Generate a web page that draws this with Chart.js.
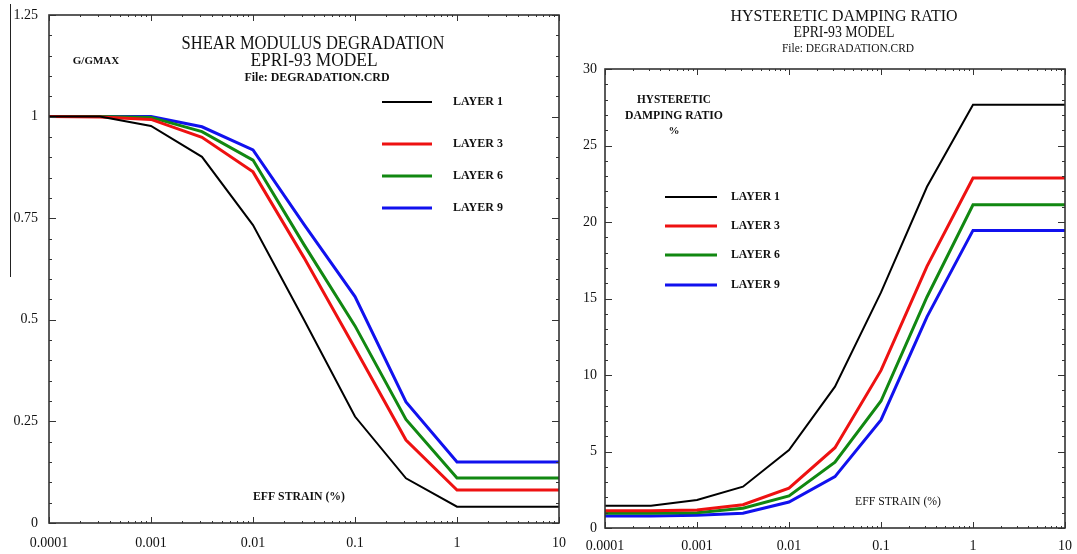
<!DOCTYPE html>
<html><head><meta charset="utf-8">
<script src="https://cdn.jsdelivr.net/npm/chart.js@4.4.1/dist/chart.umd.min.js"></script>
<style>
html,body{margin:0;padding:0;background:#fff;width:1077px;height:554px;overflow:hidden}
#c1{position:absolute;left:0;top:0}
#c2{position:absolute;left:565px;top:0}
</style></head><body>
<canvas id="c1" width="572" height="554"></canvas>
<canvas id="c2" width="512" height="554"></canvas>
<script>
// ---- data ----
const strain = [0.0001, 0.000316, 0.001, 0.00316, 0.01, 0.0316, 0.1, 0.316, 1, 10];
const layerNames = ['LAYER 1', 'LAYER 3', 'LAYER 6', 'LAYER 9'];
const layerColors = ['#000000', '#ee1111', '#118811', '#1111ee'];

const gLayer1 = [1.0, 1.0, 0.977, 0.901, 0.733, 0.500, 0.262, 0.110, 0.040, 0.040];
const gLayer3 = [1.0, 0.999, 0.993, 0.949, 0.864, 0.653, 0.430, 0.204, 0.081, 0.081];
const gLayer6 = [1.0, 1.0, 0.998, 0.963, 0.893, 0.685, 0.485, 0.255, 0.111, 0.111];
const gLayer9 = [1.0, 1.0, 1.0, 0.975, 0.918, 0.735, 0.557, 0.298, 0.150, 0.150];

const dLayer1 = [1.46, 1.46, 1.83, 2.70, 5.10, 9.24, 15.4, 22.3, 27.67, 27.67];
const dLayer3 = [1.13, 1.13, 1.18, 1.52, 2.60, 5.25, 10.3, 17.1, 22.87, 22.87];
const dLayer6 = [0.96, 0.96, 1.00, 1.29, 2.10, 4.30, 8.3, 15.1, 21.12, 21.12];
const dLayer9 = [0.78, 0.78, 0.83, 0.96, 1.70, 3.36, 7.06, 13.8, 19.45, 19.45];

const xTickValues = [0.0001, 0.001, 0.01, 0.1, 1, 10];
const xTickLabels = ['0.0001', '0.001', '0.01', '0.1', '1', '10'];
const gTickValues = [0, 0.25, 0.5, 0.75, 1, 1.25];
const gTickLabels = ['0', '0.25', '0.5', '0.75', '1', '1.25'];
const dTickValues = [0, 5, 10, 15, 20, 25, 30];
const dTickLabels = ['0', '5', '10', '15', '20', '25', '30'];

// ---- drawing helpers ----
const FONT = '"Liberation Serif", "Times New Roman", "DejaVu Serif", serif';

function txt(ctx, s, x, y, size, bold, maxW, align) {
  ctx.save();
  ctx.font = (bold ? 'bold ' : '') + size + 'px ' + FONT;
  ctx.fillStyle = '#111';
  ctx.textAlign = align || 'center';
  ctx.textBaseline = 'middle';
  if (maxW) ctx.fillText(s, x, y, maxW); else ctx.fillText(s, x, y);
  ctx.restore();
}
function seg(ctx, x1, y1, x2, y2) {
  ctx.beginPath(); ctx.moveTo(x1, y1); ctx.lineTo(x2, y2); ctx.stroke();
}

const framePlugin = {
  id: 'frame',
  afterDatasetsDraw(chart, args, o) {
    const ctx = chart.ctx, a = chart.chartArea, x = chart.scales.x, y = chart.scales.y;
    ctx.save();
    ctx.strokeStyle = '#333';
    ctx.lineWidth = 1.6;
    ctx.strokeRect(a.left, a.top, a.right - a.left, a.bottom - a.top);
    ctx.lineWidth = 1;
    for (let d = -4; d <= 1; d++) {
      for (let k = 1; k <= 9; k++) {
        const v = k * Math.pow(10, d);
        if (v > x.max * 1.0001) break;
        const px = Math.round(x.getPixelForValue(v)) + 0.5;
        const len = k === 1 ? 6 : 2;
        seg(ctx, px, a.bottom, px, a.bottom - len);
        seg(ctx, px, a.top, px, a.top + len);
      }
    }
    const n = Math.round((y.max - y.min) / o.minor);
    for (let i = 0; i <= n; i++) {
      const v = y.min + i * o.minor;
      const major = (i % o.perMajor) === 0;
      const py = Math.round(y.getPixelForValue(v)) + 0.5;
      const len = major ? 7 : 3;
      seg(ctx, a.left, py, a.left + len, py);
      seg(ctx, a.right, py, a.right - len, py);
    }
    (o.extraLines || []).forEach(l => { ctx.lineWidth = 1; ctx.strokeStyle = '#222'; seg(ctx, l[0], l[1], l[2], l[3]); });
    const L = o.legend;
    chart.data.datasets.forEach((ds, i) => {
      const yy = L.ys[i];
      ctx.strokeStyle = ds.borderColor;
      ctx.lineWidth = ds.borderWidth;
      seg(ctx, L.x1, yy, L.x2, yy);
      txt(ctx, ds.label, L.tx, yy, 12, true, L.tw, 'left');
    });
    (o.texts || []).forEach(t => txt(ctx, t.s, t.x, t.y, t.size, t.bold, t.w, t.align));
    ctx.restore();
  }
};

function mkDatasets(arrs) {
  return arrs.map((arr, i) => ({
    label: layerNames[i],
    data: strain.map((s, j) => ({ x: s, y: arr[j] })),
    borderColor: layerColors[i],
    borderWidth: i === 0 ? 2 : 3,
    pointRadius: 0,
    tension: 0,
    fill: false
  }));
}

function mkOptions(cfg) {
  return {
    responsive: false,
    animation: false,
    devicePixelRatio: 1,
    layout: { padding: cfg.pad },
    plugins: { legend: { display: false }, tooltip: { enabled: false }, frame: cfg.frame },
    scales: {
      x: {
        type: 'logarithmic', min: 0.0001, max: 10,
        grid: { display: false, drawTicks: false },
        border: { display: false },
        afterBuildTicks: s => { s.ticks = xTickValues.map(v => ({ value: v })); },
        ticks: { callback: (v, i) => xTickLabels[i], font: { family: FONT, size: 14 }, color: '#111', padding: cfg.xPad, maxRotation: 0, autoSkip: false },
        afterFit: s => { s.height = cfg.xH; s.paddingLeft = 0; s.paddingRight = 0; }
      },
      y: {
        type: 'linear', min: cfg.yMin, max: cfg.yMax,
        grid: { display: false, drawTicks: false },
        border: { display: false },
        afterBuildTicks: s => { s.ticks = cfg.yVals.map(v => ({ value: v })); },
        ticks: { callback: (v, i) => cfg.yLabels[i], font: { family: FONT, size: 14 }, color: '#111', padding: cfg.yPad },
        afterFit: s => { s.width = cfg.yW; s.paddingTop = 0; s.paddingBottom = 0; }
      }
    }
  };
}

// ---- left chart: G/GMAX ----
new Chart(document.getElementById('c1'), {
  type: 'line',
  data: { datasets: mkDatasets([gLayer1, gLayer3, gLayer6, gLayer9]) },
  options: mkOptions({
    pad: { top: 15, right: 13, bottom: 0, left: 0 },
    xH: 31, xPad: 12, yW: 49, yPad: 11,
    yMin: 0, yMax: 1.25, yVals: gTickValues, yLabels: gTickLabels,
    frame: {
      minor: 0.05, perMajor: 5,
      extraLines: [[10.5, 4, 10.5, 277]],
      legend: { x1: 382, x2: 432, tx: 453, tw: 50, ys: [102, 144, 176, 208] },
      texts: [
        { s: 'SHEAR MODULUS DEGRADATION', x: 313, y: 44, size: 18, w: 263 },
        { s: 'EPRI-93 MODEL', x: 314, y: 61, size: 18, w: 127 },
        { s: 'File: DEGRADATION.CRD', x: 317, y: 78, size: 12, bold: true, w: 145 },
        { s: 'G/GMAX', x: 96, y: 61, size: 11, bold: true, w: 47 },
        { s: 'EFF STRAIN (%)', x: 299, y: 497, size: 12, bold: true, w: 92 }
      ]
    }
  }),
  plugins: [framePlugin]
});

// ---- right chart: damping ratio ----
const OX = 565;
new Chart(document.getElementById('c2'), {
  type: 'line',
  data: { datasets: mkDatasets([dLayer1, dLayer3, dLayer6, dLayer9]) },
  options: mkOptions({
    pad: { top: 69, right: 12, bottom: 0, left: 0 },
    xH: 26, xPad: 10, yW: 40, yPad: 8,
    yMin: 0, yMax: 30, yVals: dTickValues, yLabels: dTickLabels,
    frame: {
      minor: 1, perMajor: 5,
      legend: { x1: 665 - OX, x2: 717 - OX, tx: 731 - OX, tw: 49, ys: [197, 226, 255, 285] },
      texts: [
        { s: 'HYSTERETIC DAMPING RATIO', x: 844 - OX, y: 17, size: 17, w: 227 },
        { s: 'EPRI-93 MODEL', x: 844 - OX, y: 33, size: 17, w: 101 },
        { s: 'File: DEGRADATION.CRD', x: 848 - OX, y: 49, size: 13, w: 132 },
        { s: 'HYSTERETIC', x: 674 - OX, y: 100, size: 12, bold: true, w: 74 },
        { s: 'DAMPING RATIO', x: 674 - OX, y: 116, size: 12, bold: true, w: 98 },
        { s: '%', x: 674 - OX, y: 131, size: 11, bold: true },
        { s: 'EFF STRAIN (%)', x: 898 - OX, y: 502, size: 12.5, w: 86 }
      ]
    }
  }),
  plugins: [framePlugin]
});
</script>
</body></html>
